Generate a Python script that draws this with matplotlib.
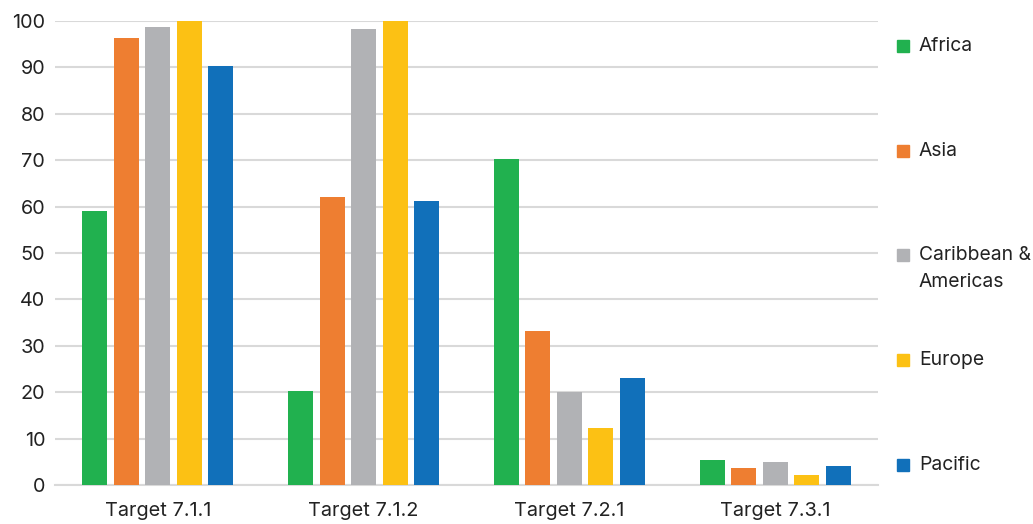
import matplotlib
matplotlib.use("Agg")
import matplotlib.pyplot as plt
from matplotlib.patches import Rectangle
import numpy as np

plt.rcParams['font.family'] = ['Inter', 'DejaVu Sans']

targets = ["Target 7.1.1", "Target 7.1.2", "Target 7.2.1", "Target 7.3.1"]
regions = ["Africa", "Asia", "Caribbean &\nAmericas", "Europe", "Pacific"]
africa = [59.1, 20.2, 70.3, 5.4]
asia = [96.3, 62.1, 33.1, 3.7]
caribbean = [98.7, 98.3, 20.0, 5.0]
europe = [100.0, 100.0, 12.3, 2.2]
pacific = [90.2, 61.3, 23.0, 4.1]
yticks = [0, 10, 20, 30, 40, 50, 60, 70, 80, 90, 100]

series = [africa, asia, caribbean, europe, pacific]
colors = ["#21b14f", "#ee7e31", "#b1b2b5", "#fcc114", "#1170ba"]

W, H = 1033, 524
fig = plt.figure(figsize=(W / 100, H / 100), dpi=100)
ax = fig.add_axes([55 / W, 1 - 485 / H, 823 / W, 464 / H])

x = np.arange(len(targets))
step = 0.153
width = 0.122
for i, (vals, col) in enumerate(zip(series, colors)):
    ax.bar(x + (i - 2) * step, vals, width=width, color=col, zorder=3)

ax.set_xlim(-0.5, len(targets) - 0.5)
ax.set_ylim(0, 100)
ax.set_yticks(yticks)
ax.set_xticks(x)
ax.set_xticklabels(targets)
ax.grid(axis='y', color='#d9d9d9', linewidth=1.5, zorder=0)
for s in ['top', 'right', 'left']:
    ax.spines[s].set_visible(False)
ax.spines['bottom'].set_color('#d9d9d9')
ax.spines['bottom'].set_linewidth(1.5)
ax.tick_params(axis='both', length=0, labelsize=14.3, colors='#222222')
ax.tick_params(axis='y', pad=7)
ax.tick_params(axis='x', pad=12)

# legend: colour square plus label lines, positioned in pixels
legend_base = [51, 156, 260, 365, 470]
line_gap = 27
for label, col, base in zip(regions, colors, legend_base):
    fig.add_artist(Rectangle((897 / W, 1 - (base + 1) / H), 12 / W, 12 / H,
                             transform=fig.transFigure, color=col))
    for k, line in enumerate(label.split("\n")):
        fig.text(919 / W, 1 - (base + k * line_gap) / H, line, fontsize=13.9,
                 color='#222222', va='baseline', ha='left')

fig.savefig("out.png", dpi=100)
